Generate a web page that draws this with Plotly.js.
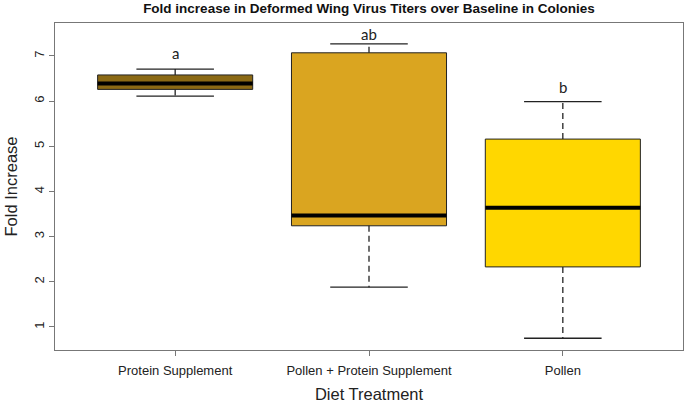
<!DOCTYPE html>
<html>
<head>
<meta charset="utf-8">
<script src="https://cdn.plot.ly/plotly-3.0.1.min.js"></script>
<style>
	body { margin: 0; background: #fff; }
	#myDiv { width: 685px; height: 403px; }
</style>
</head>
<body>
<div id="myDiv"></div>
<script>
// Werte
const categories = ['Protein Supplement', 'Pollen + Protein Supplement', 'Pollen']
const lowerWhisker = [6.11, 1.88, 0.75]
const q1 = [6.26, 3.24, 2.33]
const medians = [6.39, 3.47, 3.64]
const q3 = [6.58, 7.07, 5.16]
const upperWhisker = [6.71, 7.27, 5.99]
const boxColors = ['#8B6914', '#DAA520', '#FFD700']
const letters = ['a', 'ab', 'b']
const letterY = [7.07, 7.49, 6.31]

const halfBox = 0.4
const halfCap = 0.2

let data = []
for (let i = 0; i < categories.length; i++){
	// Box
	data.push({
		x: [i - halfBox, i + halfBox, i + halfBox, i - halfBox, i - halfBox],
		y: [q1[i], q1[i], q3[i], q3[i], q1[i]],
		mode: 'lines',
		fill: 'toself',
		fillcolor: boxColors[i],
		line: {color: '#222', width: 1},
		hoverinfo: 'skip'
	})
	// Median
	data.push({
		x: [i - halfBox, i + halfBox],
		y: [medians[i], medians[i]],
		mode: 'lines',
		line: {color: '#000', width: 4},
		hoverinfo: 'skip'
	})
	// Whisker (gestrichelt)
	data.push({
		x: [i, i, null, i, i],
		y: [q3[i], upperWhisker[i], null, q1[i], lowerWhisker[i]],
		mode: 'lines',
		line: {color: '#222', width: 1.3, dash: '6px,4px'},
		hoverinfo: 'skip'
	})
	// Caps
	data.push({
		x: [i - halfCap, i + halfCap, null, i - halfCap, i + halfCap],
		y: [upperWhisker[i], upperWhisker[i], null, lowerWhisker[i], lowerWhisker[i]],
		mode: 'lines',
		line: {color: '#222', width: 1.3},
		hoverinfo: 'skip'
	})
}

let annotations = letters.map((t, i) => ({
	x: i,
	y: letterY[i],
	text: t,
	showarrow: false,
	font: {family: 'Lato, sans-serif', size: 15, color: '#222'}
}))

var layout = {
	width: 685,
	height: 403,
	margin: {l: 55, r: 2, t: 23, b: 53},
	paper_bgcolor: '#fff',
	plot_bgcolor: '#fff',
	showlegend: false,
	font: {family: 'Liberation Sans, Arial, sans-serif', color: '#222'},
	title: {
		text: '<b>Fold increase in Deformed Wing Virus Titers over Baseline in Colonies</b>',
		font: {size: 13.5, color: '#111'},
		xref: 'paper',
		x: 0.5,
		yref: 'container',
		y: 0.98,
		yanchor: 'middle'
	},
	xaxis: {
		range: [-0.62, 2.62],
		tickvals: [0, 1, 2],
		ticktext: categories,
		showgrid: false,
		zeroline: false,
		showline: true,
		mirror: true,
		linecolor: '#777',
		linewidth: 1,
		ticks: 'outside',
		ticklen: 5,
		tickcolor: '#777',
		tickfont: {size: 13},
		ticklabelstandoff: 3,
		title: {text: 'Diet Treatment', font: {size: 16.5}, standoff: 12}
	},
	yaxis: {
		range: [0.49, 7.73],
		tickvals: [1, 2, 3, 4, 5, 6, 7],
		tickangle: -90,
		showgrid: false,
		zeroline: false,
		showline: true,
		mirror: true,
		linecolor: '#777',
		linewidth: 1,
		ticks: 'outside',
		ticklen: 5,
		tickcolor: '#777',
		tickfont: {size: 13},
		title: {text: 'Fold Increase', font: {size: 16.5}, standoff: 10}
	},
	annotations: annotations
}

Plotly.newPlot('myDiv', data, layout, {displayModeBar: false, staticPlot: true})
</script>
</body>
</html>
